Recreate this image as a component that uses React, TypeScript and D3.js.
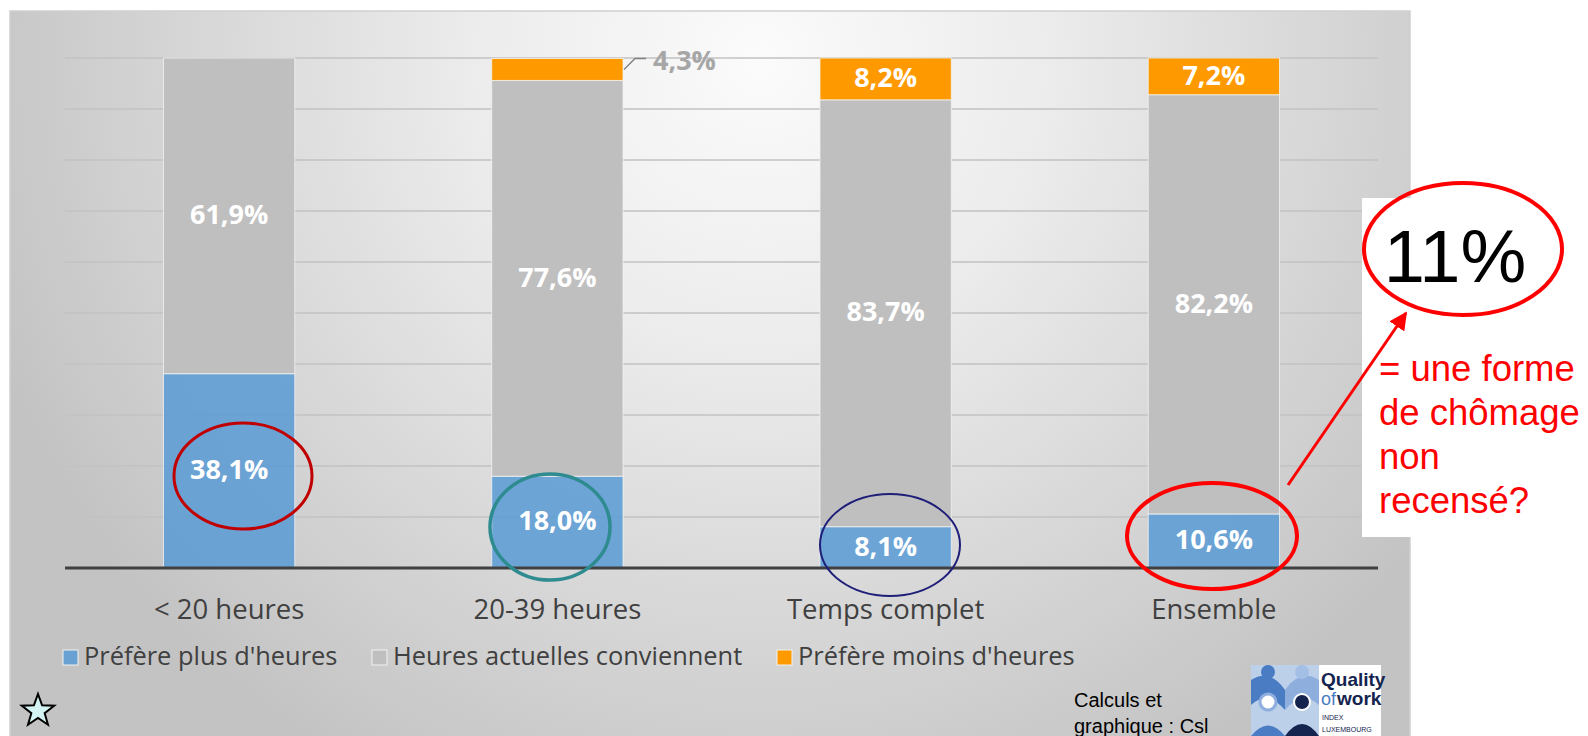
import React from "react";
import * as d3 from "d3";

const categories = ["< 20 heures", "20-39 heures", "Temps complet", "Ensemble"];
const seriesNames = ["Préfère plus d'heures", "Heures actuelles conviennent", "Préfère moins d'heures"];
const plusHeures = [38.1, 18.0, 8.1, 10.6];
const conviennent = [61.9, 77.6, 83.7, 82.2];
const moinsHeures = [0, 4.3, 8.2, 7.2];
const yTicks = [0, 10, 20, 30, 40, 50, 60, 70, 80, 90, 100];
const noteLines = ["= une forme", "de chômage", "non", "recensé?"];
const highlight = "11%";

const W = 1588;
const H = 736;
const colors = ["#5b9bd5", "#bfbfbf", "#ff9900"];
const keys = ["plus", "conv", "moins"];

const fr = d3.formatLocale({ decimal: ",", thousands: " ", grouping: [3], currency: ["", "€"] });
const fmt = (v: number) => fr.format(".1f")(v) + "%";

export default function App() {
  const rows = categories.map((c, i) => ({ cat: c, plus: plusHeures[i], conv: conviennent[i], moins: moinsHeures[i] }));
  const stack = d3.stack<any>().keys(keys)(rows);
  const x = d3.scaleBand<string>().domain(categories).range([65, 1378]).paddingInner(0.6).paddingOuter(0.3);
  const y = d3.scaleLinear().domain([0, 100]).range([568, 58]);
  const bw = x.bandwidth();

  const starPts = d3.range(10).map((k) => {
    const a = -Math.PI / 2 + (k * Math.PI) / 5;
    const r = k % 2 === 0 ? 17 : 7;
    return [38 + r * Math.cos(a), 711 + r * Math.sin(a)];
  });

  const legendX = [63, 372, 777];

  return (
    <div style={{ position: "absolute", left: 0, top: 0 }}>
      <svg width={W} height={H} style={{ display: "block" }}>
        <defs>
          <radialGradient id="bg" gradientUnits="userSpaceOnUse" cx={760} cy={60} r={820}>
            <stop offset="0" stopColor="#fbfbfb" />
            <stop offset="0.35" stopColor="#ececec" />
            <stop offset="1" stopColor="#c3c3c3" />
          </radialGradient>
          <marker id="arrow" viewBox="0 0 10 10" refX="9" refY="5" markerWidth="6" markerHeight="6" orient="auto">
            <path d="M0,0 L10,5 L0,10 z" fill="#ff0000" />
          </marker>
        </defs>
        <rect x={0} y={0} width={W} height={H} fill="#ffffff" />
        <rect x={10} y={11} width={1400} height={740} fill="url(#bg)" stroke="#cfcfcf" strokeWidth={1.5} />

        {/* gridlines */}
        {yTicks.filter((t) => t > 0).map((t) => (
          <line key={t} x1={65} x2={1378} y1={y(t)} y2={y(t)} stroke="#c2c2c2" strokeWidth={1.6} />
        ))}

        {/* bars */}
        {stack.map((s, si) =>
          s.map((d: any, i: number) => {
            const v = d[1] - d[0];
            if (v <= 0) return null;
            return (
              <rect
                key={si + "-" + i}
                x={x(categories[i])}
                y={y(d[1])}
                width={bw}
                height={y(d[0]) - y(d[1])}
                fill={colors[si]}
                fillOpacity={si === 0 ? 0.86 : 1}
                stroke="#f2f2f2"
                strokeOpacity={0.8}
                strokeWidth={1}
              />
            );
          })
        )}

        {/* labels */}
        {stack.map((s, si) =>
          s.map((d: any, i: number) => {
            const v = d[1] - d[0];
            if (v <= 0) return null;
            const cx = (x(categories[i]) as number) + bw / 2;
            if (v < 5) {
              const x0 = (x(categories[i]) as number) + bw;
              const yy = y(d[1]);
              return (
                <g key={"l" + si + "-" + i}>
                  <polyline points={`${x0 + 1},${yy + 11} ${x0 + 12},${yy} ${x0 + 23},${yy}`} fill="none" stroke="#7f7f7f" strokeWidth={1.3} />
                  <text x={x0 + 30} y={yy + 4} dominantBaseline="middle" fontFamily="'Open Sans', sans-serif" fontWeight={700} fontSize={27} fill="#a6a6a6">
                    {fmt(v)}
                  </text>
                </g>
              );
            }
            return (
              <text key={"l" + si + "-" + i} x={cx} y={(y(d[0]) + y(d[1])) / 2 + 1} textAnchor="middle" dominantBaseline="middle" fontFamily="'Open Sans', sans-serif" fontWeight={700} fontSize={27} fill="#ffffff">
                {fmt(v)}
              </text>
            );
          })
        )}

        {/* axis line */}
        <line x1={65} x2={1378} y1={y(0)} y2={y(0)} stroke="#404040" strokeWidth={3} />

        {/* category labels */}
        {categories.map((c) => (
          <text key={c} x={(x(c) as number) + bw / 2} y={612} textAnchor="middle" dominantBaseline="middle" fontFamily="'Open Sans', sans-serif" fontSize={27.5} fill="#404040">
            {c}
          </text>
        ))}

        {/* legend */}
        {seriesNames.map((n, i) => (
          <g key={n}>
            <rect x={legendX[i]} y={650} width={15} height={15} fill={colors[i]} fillOpacity={i === 0 ? 0.86 : 1} stroke="#f2f2f2" strokeWidth={1} />
            <text x={legendX[i] + 21} y={658} dominantBaseline="middle" fontFamily="'Open Sans', sans-serif" fontSize={25.4} fill="#404040">
              {n}
            </text>
          </g>
        ))}

        {/* ellipses highlighting */}
        <ellipse cx={243} cy={476} rx={69} ry={53} fill="none" stroke="#c00000" strokeWidth={3} />
        <ellipse cx={550} cy={527} rx={60} ry={53} fill="none" stroke="#2e8b8f" strokeWidth={3.5} />
        <ellipse cx={890} cy={545} rx={70} ry={51} fill="none" stroke="#1f1f7a" strokeWidth={2} />
        <ellipse cx={1212} cy={536} rx={85} ry={53} fill="none" stroke="#ff0000" strokeWidth={4} />

        {/* annotation box */}
        <rect x={1362} y={198} width={226} height={339} fill="#ffffff" />
        <ellipse cx={1463} cy={249} rx={99} ry={66} fill="none" stroke="#ff0000" strokeWidth={4} />
        <text x={1455} y={282} textAnchor="middle" fontFamily="'Liberation Sans', Arial, sans-serif" fontSize={74} fill="#000000">
          {highlight}
        </text>
        {noteLines.map((l, i) => (
          <text key={l} x={1379} y={381 + i * 44} fontFamily="'Liberation Sans', Arial, sans-serif" fontSize={36.5} fill="#ff0000">
            {l}
          </text>
        ))}
        <line x1={1288} y1={485} x2={1406} y2={313} stroke="#ff0000" strokeWidth={3} markerEnd="url(#arrow)" />

        {/* star */}
        <polygon points={starPts.map((p) => p.join(",")).join(" ")} fill="#d4f4f4" stroke="#000000" strokeWidth={2} />

        {/* source */}
        <text x={1074} y={707} fontFamily="'Liberation Sans', Arial, sans-serif" fontSize={20} fill="#000000">Calculs et</text>
        <text x={1074} y={733} fontFamily="'Liberation Sans', Arial, sans-serif" fontSize={20} fill="#000000">graphique : Csl</text>

        {/* logo */}
        <g>
          <rect x={1251} y={665} width={130} height={71} fill="#ffffff" />
          <rect x={1251} y={665} width={68} height={71} fill="#bcd0ea" />
          <path d="M1251,680 Q1270,668 1285,690 L1285,710 Q1268,690 1251,705 Z" fill="#4a7cc4" />
          <path d="M1285,690 Q1300,668 1319,680 L1319,705 Q1302,690 1285,710 Z" fill="#8eaede" />
          <circle cx={1268} cy={672} r={7} fill="#4a7cc4" />
          <circle cx={1302} cy={672} r={7} fill="#a4bfe6" />
          <circle cx={1268} cy={702} r={8} fill="#ffffff" stroke="#8eaede" strokeWidth={3} />
          <path d="M1251,736 Q1268,715 1285,736 Z" fill="#4a7cc4" />
          <circle cx={1302} cy={702} r={8} fill="#14244f" stroke="#ffffff" strokeWidth={2} />
          <path d="M1285,736 Q1302,712 1319,736 Z" fill="#14244f" />
          <text x={1321} y={686} fontFamily="'Liberation Sans', Arial, sans-serif" fontWeight={700} fontSize={19} fill="#14244f">Quality</text>
          <text x={1321} y={705} fontFamily="'Liberation Sans', Arial, sans-serif" fontSize={18} fill="#4a7cc4">of</text>
          <text x={1337} y={705} fontFamily="'Liberation Sans', Arial, sans-serif" fontWeight={700} fontSize={19} fill="#14244f">work</text>
          <text x={1322} y={720} fontFamily="'Liberation Sans', Arial, sans-serif" fontSize={7} fill="#14244f">INDEX</text>
          <text x={1322} y={732} fontFamily="'Liberation Sans', Arial, sans-serif" fontSize={7} fill="#14244f">LUXEMBOURG</text>
        </g>
      </svg>
    </div>
  );
}
